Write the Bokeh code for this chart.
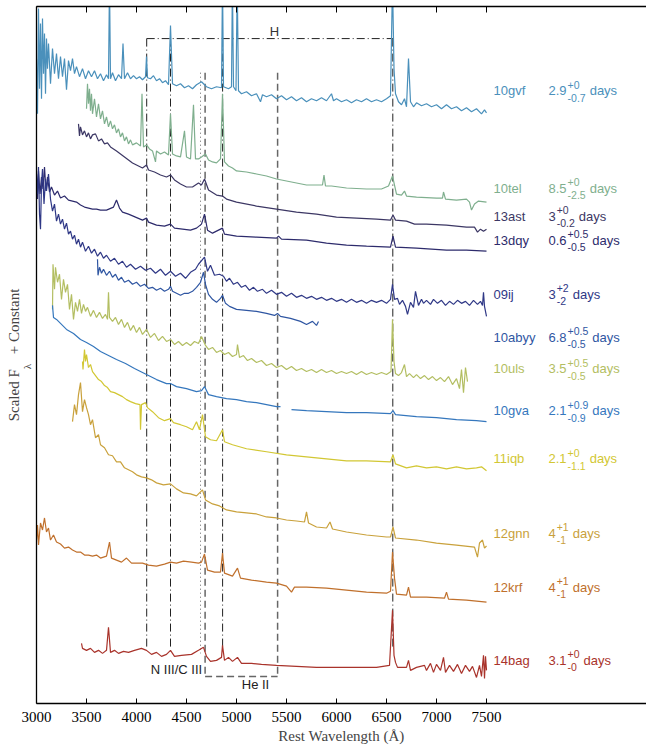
from bokeh.plotting import figure
from bokeh.models import Range1d, LinearAxis, FixedTicker, ColumnDataSource
from bokeh.core.properties import value
from bokeh.embed import file_html
from bokeh.resources import INLINE

# spectra: rest wavelength (A) and scaled flux + constant
wave_10gvf = [3000, 3010, 3020, 3030, 3040, 3050, 3060, 3070, 3080, 3090, 3100, 3110, 3120, 3140, 3160,
              3180, 3200, 3220, 3240, 3260, 3280, 3300, 3320, 3340, 3360, 3380, 3400, 3430, 3460, 3490,
              3520, 3550, 3580, 3610, 3640, 3670, 3700, 3720, 3730, 3740, 3760, 3790, 3820, 3850, 3865,
              3880, 3910, 3940, 3970, 4000, 4030, 4060, 4090, 4100, 4110, 4140, 4170, 4200, 4230, 4260,
              4290, 4320, 4340, 4360, 4400, 4440, 4480, 4520, 4560, 4600, 4650, 4700, 4750, 4800, 4850,
              4860, 4870, 4920, 4950, 4959, 4970, 4995, 5007, 5020, 5050, 5100, 5150, 5200, 5240, 5260,
              5300, 5350, 5400, 5450, 5500, 5550, 5600, 5650, 5700, 5750, 5800, 5850, 5900, 5950, 5970,
              6000, 6050, 6100, 6150, 6200, 6250, 6300, 6350, 6400, 6450, 6500, 6540, 6560, 6575, 6590,
              6620, 6650, 6680, 6700, 6720, 6740, 6770, 6800, 6850, 6900, 6950, 7000, 7050, 7100, 7150,
              7200, 7250, 7300, 7350, 7400, 7450, 7480, 7500]
flux_10gvf = [643, 588, 693, 613, 678, 603, 683, 628, 668, 608, 663, 633, 658, 618, 653,
              628, 648, 623, 645, 625, 643, 612, 641, 631, 643, 628, 635, 625, 633, 623,
              631, 625, 631, 623, 628, 621, 627, 623, 720, 623, 629, 621, 627, 623, 658,
              623, 629, 623, 626, 623, 625, 622, 625, 645, 624, 623, 626, 621, 623, 619,
              621, 617, 676, 618, 616, 618, 614, 616, 613, 617, 620, 615, 613, 615, 614,
              720, 615, 613, 615, 720, 615, 611, 720, 611, 608, 610, 606, 608, 600, 607,
              605, 607, 603, 606, 602, 605, 601, 604, 600, 603, 601, 604, 601, 608, 601,
              603, 600, 602, 599, 602, 600, 603, 600, 602, 600, 603, 606, 720, 633, 608,
              600, 597, 603, 595, 643, 600, 595, 599, 596, 598, 595, 597, 593, 597, 593,
              595, 591, 594, 590, 593, 588, 592, 589]

wave_10tel = [3500, 3510, 3520, 3530, 3540, 3550, 3560, 3580, 3600, 3620, 3640, 3660, 3680, 3700, 3720,
              3740, 3760, 3780, 3800, 3820, 3840, 3860, 3880, 3900, 3920, 3940, 3960, 4000, 4040, 4055,
              4070, 4100, 4130, 4160, 4190, 4200, 4240, 4280, 4320, 4340, 4360, 4400, 4440, 4480, 4500,
              4540, 4570, 4590, 4620, 4650, 4690, 4720, 4760, 4800, 4840, 4860, 4880, 4920, 4960, 5000,
              5100, 5200, 5300, 5400, 5500, 5600, 5700, 5860, 5875, 5890, 5950, 6100, 6300, 6450, 6520,
              6560, 6580, 6600, 6650, 6680, 6700, 6800, 7000, 7060, 7070, 7090, 7200, 7300, 7330, 7350,
              7380, 7420, 7500]
flux_10tel = [593, 618, 598, 613, 591, 608, 588, 603, 585, 598, 583, 591, 578, 585, 575,
              581, 573, 577, 569, 573, 565, 569, 561, 565, 558, 562, 557, 559, 556, 608,
              555, 557, 553, 551, 540, 551, 548, 550, 547, 588, 548, 546, 545, 571, 545,
              543, 597, 543, 543, 545, 548, 542, 540, 539, 543, 608, 540, 536, 534, 531,
              530, 528, 526, 523, 521, 519, 517, 517, 527, 516, 516, 514, 513, 513, 516,
              526, 517, 508, 507, 511, 506, 505, 504, 504, 510, 503, 502, 503, 500, 492,
              498, 501, 500]

wave_13ast = [3420, 3430, 3440, 3460, 3480, 3500, 3520, 3540, 3560, 3590, 3620, 3650, 3680, 3710, 3740,
              3770, 3800, 3840, 3880, 3920, 3960, 4000, 4060, 4100, 4120, 4180, 4240, 4300, 4340, 4380,
              4440, 4500, 4560, 4620, 4650, 4680, 4720, 4800, 4860, 4900, 5000, 5200, 5400, 5600, 5800,
              6000, 6200, 6400, 6540, 6565, 6590, 6700, 6780, 6900, 7100, 7300, 7380, 7410, 7440, 7470,
              7500]
flux_13ast = [578, 566, 575, 567, 571, 565, 569, 563, 567, 568, 561, 563, 558, 559, 555,
              553, 551, 548, 545, 542, 539, 537, 534, 537, 532, 530, 527, 525, 527, 522,
              518, 515, 515, 519, 517, 523, 512, 507, 506, 503, 500, 496, 493, 490, 488,
              485, 484, 483, 482, 487, 482, 481, 478, 478, 477, 475, 475, 470, 473, 471,
              473]

wave_13dqy = [3000, 3010, 3020, 3035, 3050, 3065, 3080, 3095, 3110, 3130, 3150, 3180, 3210, 3240, 3280,
              3320, 3360, 3400, 3440, 3480, 3520, 3560, 3600, 3640, 3700, 3770, 3800, 3830, 3860, 3920,
              3990, 4060, 4100, 4120, 4200, 4280, 4340, 4380, 4460, 4540, 4600, 4650, 4680, 4710, 4760,
              4860, 4880, 5000, 5200, 5400, 5420, 5450, 5700, 5900, 6100, 6300, 6540, 6565, 6590, 6800,
              7100, 7300, 7500]
flux_13dqy = [518, 503, 531, 508, 525, 513, 535, 511, 525, 510, 515, 507, 511, 504, 506,
              502, 501, 500, 497, 495, 494, 493, 493, 492, 492, 495, 502, 494, 490, 488,
              485, 482, 484, 480, 477, 476, 478, 474, 473, 472, 474, 478, 488, 472, 469,
              474, 468, 466, 465, 464, 466, 463, 462, 459, 457, 456, 455, 466, 455, 454,
              452, 452, 451]

wave_09ij = [3000, 3010, 3020, 3030, 3040, 3050, 3060, 3075, 3090, 3100, 3120, 3140, 3160, 3180, 3200,
             3220, 3240, 3260, 3280, 3300, 3320, 3340, 3360, 3380, 3400, 3420, 3440, 3460, 3490, 3520,
             3550, 3580, 3610, 3640, 3670, 3700, 3740, 3780, 3820, 3860, 3900, 3940, 3990, 4040, 4090,
             4140, 4190, 4240, 4290, 4340, 4390, 4440, 4490, 4540, 4590, 4620, 4680, 4710, 4740, 4780,
             4830, 4870, 4900, 4930, 4970, 5010, 5050, 5090, 5130, 5170, 5210, 5260, 5300, 5350, 5400,
             5450, 5500, 5550, 5600, 5650, 5700, 5750, 5800, 5850, 5900, 5950, 6000, 6050, 6100, 6150,
             6200, 6250, 6300, 6350, 6400, 6450, 6500, 6540, 6560, 6580, 6610, 6630, 6660, 6690, 6710,
             6740, 6770, 6790, 6820, 6850, 6870, 6900, 6940, 6970, 7010, 7050, 7090, 7130, 7170, 7210,
             7250, 7290, 7330, 7370, 7410, 7440, 7460, 7470, 7480, 7500]
flux_09ij = [528, 508, 535, 488, 473, 518, 533, 498, 523, 511, 528, 503, 491, 498, 481,
             488, 478, 483, 473, 479, 468, 471, 463, 467, 458, 463, 455, 460, 451, 456,
             449, 453, 446, 450, 444, 447, 441, 444, 438, 441, 435, 438, 433, 436, 432,
             434, 429, 433, 427, 431, 426, 429, 424, 430, 433, 438, 445, 431, 437, 427,
             428, 426, 421, 424, 418, 420, 415, 417, 412, 415, 411, 413, 409, 412, 408,
             410, 406, 409, 405, 407, 404, 406, 403, 405, 402, 404, 401, 403, 400, 403,
             400, 402, 399, 402, 400, 402, 399, 403, 418, 403, 404, 398, 402, 396, 388,
             400, 395, 411, 397, 403, 399, 402, 398, 403, 399, 402, 397, 401, 398, 402,
             399, 401, 397, 402, 398, 401, 397, 410, 396, 386]

wave_10abyy = [3610, 3615, 3630, 3650, 3670, 3700, 3730, 3760, 3790, 3820, 3850, 3880, 3920, 3960, 4000,
               4040, 4080, 4120, 4160, 4200, 4240, 4280, 4320, 4340, 4360, 4400, 4440, 4480, 4520, 4560,
               4600, 4640, 4670, 4690, 4720, 4760, 4800, 4840, 4860, 4890, 4930, 5000, 5100, 5200, 5300,
               5380, 5410, 5440, 5540, 5640, 5700, 5760, 5800, 5820]
flux_10abyy = [443, 427, 435, 429, 433, 427, 431, 425, 428, 422, 425, 420, 422, 418, 420,
               416, 418, 414, 415, 412, 414, 411, 413, 416, 411, 409, 407, 409, 409, 411,
               415, 420, 430, 418, 408, 403, 400, 404, 407, 399, 396, 393, 392, 391, 389,
               387, 389, 386, 384, 381, 378, 381, 377, 381]

wave_10uls = [3160, 3165, 3180, 3190, 3210, 3230, 3250, 3270, 3290, 3310, 3330, 3350, 3370, 3390, 3410,
              3430, 3450, 3470, 3490, 3510, 3540, 3570, 3600, 3630, 3660, 3690, 3710, 3720, 3730, 3760,
              3790, 3820, 3850, 3880, 3910, 3940, 3970, 4000, 4030, 4060, 4100, 4140, 4180, 4220, 4260,
              4300, 4340, 4380, 4420, 4460, 4500, 4540, 4580, 4620, 4650, 4690, 4720, 4760, 4800, 4840,
              4880, 4920, 4960, 5000, 5010, 5030, 5070, 5110, 5150, 5200, 5250, 5300, 5350, 5400, 5450,
              5500, 5550, 5600, 5650, 5700, 5750, 5800, 5850, 5900, 5950, 6000, 6050, 6100, 6150, 6200,
              6250, 6300, 6350, 6400, 6450, 6500, 6545, 6560, 6575, 6590, 6620, 6650, 6680, 6700, 6730,
              6770, 6800, 6840, 6880, 6920, 6960, 7000, 7040, 7080, 7120, 7160, 7200, 7230, 7250, 7270,
              7290, 7310]
flux_10uls = [393, 438, 413, 435, 420, 428, 403, 423, 410, 418, 393, 408, 383, 400, 391,
              403, 389, 398, 391, 395, 386, 392, 385, 390, 384, 388, 383, 410, 385, 381,
              385, 378, 383, 375, 380, 372, 377, 370, 375, 368, 373, 365, 369, 362, 366,
              361, 363, 358, 361, 357, 360, 357, 361, 359, 366, 357, 353, 355, 350, 352,
              348, 350, 346, 348, 358, 345, 347, 342, 344, 340, 342, 337, 339, 335, 337,
              333, 336, 332, 334, 331, 333, 330, 333, 330, 332, 329, 331, 329, 331, 328,
              331, 328, 330, 328, 330, 328, 331, 383, 341, 329, 327, 330, 338, 326, 329,
              325, 328, 324, 327, 323, 326, 322, 325, 321, 326, 318, 324, 314, 333, 310,
              335, 321]

wave_10gva = [3160, 3170, 3200, 3240, 3300, 3370, 3440, 3500, 3570, 3640, 3720, 3800, 3890, 3980, 4060,
              4100, 4200, 4300, 4340, 4400, 4500, 4600, 4650, 4680, 4720, 4800, 4900, 5000, 5100, 5200,
              5300, 5400, 5440, 5490, 5550, 5700, 5900, 6100, 6300, 6540, 6565, 6590, 6800, 7000, 7200,
              7400, 7500]
flux_10gva = [397, 385, 383, 379, 373, 369, 363, 360, 356, 351, 347, 343, 339, 334, 330,
              328, 323, 319, 319, 316, 314, 311, 312, 316, 308, 306, 304, 303, 301, 300,
              298, 296, 296, float("nan"), 293, 292, 291, 290, 290, 289, 292, 288, 286, 285, 283,
              282, 281]

wave_11iqb = [3460, 3465, 3480, 3490, 3500, 3520, 3540, 3560, 3590, 3620, 3650, 3680, 3710, 3740, 3780,
              3820, 3860, 3900, 3940, 3990, 4035, 4040, 4050, 4090, 4110, 4160, 4220, 4280, 4340, 4370,
              4440, 4500, 4560, 4600, 4630, 4660, 4690, 4740, 4800, 4860, 4880, 4960, 5100, 5300, 5500,
              5700, 5900, 6100, 6300, 6540, 6565, 6590, 6700, 6800, 6900, 7000, 7100, 7200, 7300, 7400,
              7450, 7500]
flux_11iqb = [341, 333, 353, 341, 348, 335, 338, 331, 327, 323, 321, 317, 315, 311, 310,
              308, 306, 303, 301, 299, 298, 273, 298, 300, 295, 291, 285, 282, 284, 280,
              278, 276, 273, 281, 273, 288, 266, 263, 262, 273, 261, 258, 254, 251, 248,
              246, 244, 242, 242, 241, 248, 239, 235, 237, 235, 236, 234, 236, 234, 235,
              236, 232]

wave_12gnn = [3360, 3380, 3400, 3420, 3440, 3460, 3480, 3500, 3520, 3540, 3560, 3590, 3620, 3640, 3680,
              3720, 3760, 3800, 3840, 3880, 3920, 3960, 4000, 4050, 4100, 4150, 4200, 4270, 4340, 4400,
              4470, 4540, 4600, 4660, 4690, 4760, 4830, 4900, 5000, 5100, 5200, 5300, 5400, 5500, 5600,
              5680, 5700, 5720, 5800, 5900, 5935, 5960, 6100, 6300, 6500, 6540, 6565, 6590, 6800, 7000,
              7200, 7380, 7410, 7430, 7460, 7480, 7500]
flux_12gnn = [281, 298, 288, 308, 320, 291, 303, 295, 288, 278, 283, 265, 268, 258, 255,
              248, 247, 241, 241, 235, 233, 231, 228, 226, 225, 223, 220, 218, 219, 214,
              210, 209, 207, 213, 203, 199, 197, 193, 191, 190, 189, 186, 185, 183, 182,
              181, 191, 180, 176, 175, 181, 174, 171, 168, 166, 166, 176, 165, 163, 160,
              158, 156, 146, 160, 163, 155, 157]

wave_12krf = [3000, 3010, 3020, 3040, 3060, 3080, 3100, 3120, 3140, 3170, 3200, 3240, 3280, 3320, 3360,
              3400, 3440, 3480, 3520, 3560, 3600, 3640, 3700, 3730, 3750, 3800, 3850, 3900, 3950, 4000,
              4060, 4120, 4200, 4280, 4340, 4400, 4470, 4550, 4620, 4650, 4680, 4710, 4780, 4840, 4860,
              4880, 4960, 5010, 5040, 5150, 5300, 5400, 5500, 5550, 5580, 5700, 5900, 6100, 6300, 6500,
              6540, 6560, 6580, 6600, 6700, 6720, 6740, 6900, 7080, 7100, 7120, 7300, 7500]
flux_12krf = [163, 178, 158, 180, 173, 185, 171, 175, 163, 168, 161, 159, 155, 156, 153,
              151, 151, 148, 148, 147, 148, 145, 147, 161, 145, 143, 141, 145, 140, 140,
              140, 138, 137, 139, 141, 140, 142, 141, 140, 141, 149, 133, 131, 131, 150,
              130, 127, 135, 125, 123, 121, 120, 117, 111, 116, 116, 115, 113, 111, 110,
              112, 151, 125, 109, 108, 116, 106, 106, 105, 111, 104, 103, 101]

wave_14bag = [3450, 3460, 3500, 3540, 3580, 3620, 3660, 3700, 3720, 3740, 3780, 3820, 3870, 3920, 3980,
              4050, 4100, 4150, 4200, 4250, 4300, 4340, 4380, 4450, 4550, 4620, 4670, 4700, 4740, 4800,
              4850, 4860, 4880, 4920, 4960, 5010, 5050, 5150, 5250, 5400, 5600, 5800, 6000, 6200, 6400,
              6530, 6560, 6575, 6590, 6610, 6700, 6720, 6740, 6800, 6880, 6900, 6940, 6970, 7000, 7040,
              7070, 7090, 7130, 7170, 7210, 7250, 7290, 7330, 7360, 7400, 7430, 7450, 7470, 7480, 7490,
              7500]
flux_14bag = [60, 55, 53, 55, 51, 53, 50, 53, 76, 51, 53, 50, 52, 51, 53,
              55, 53, 49, 51, 47, 49, 53, 47, 48, 49, 53, 56, 47, 42, 43,
              46, 58, 43, 46, 42, 46, 40, 40, 39, 38, 37, 36, 36, 36, 36,
              38, 93, 48, 41, 36, 36, 43, 33, 36, 38, 33, 40, 31, 39, 33,
              46, 31, 38, 32, 39, 30, 38, 32, 37, 26, 38, 27, 48, 25, 47,
              33]

names = ["10gvf", "10tel", "13ast", "13dqy", "09ij", "10abyy", "10uls", "10gva", "11iqb", "12gnn", "12krf", "14bag"]
colors = ["#4a90bb", "#7faf8e", "#3c3764", "#2d2b6c", "#2f3886", "#2f56a2", "#b3be62", "#3577bd",
          "#d2c733", "#c9a13b", "#c0702c", "#a9332b"]
waves = [wave_10gvf, wave_10tel, wave_13ast, wave_13dqy, wave_09ij, wave_10abyy, wave_10uls, wave_10gva,
         wave_11iqb, wave_12gnn, wave_12krf, wave_14bag]
fluxes = [flux_10gvf, flux_10tel, flux_13ast, flux_13dqy, flux_09ij, flux_10abyy, flux_10uls, flux_10gva,
          flux_11iqb, flux_12gnn, flux_12krf, flux_14bag]

# epoch labels: value, +err, -err ; label heights
epoch = ["2.9", "8.5", "3", "0.6", "3", "6.8", "3.5", "2.1", "2.1", "4", "4", "3.1"]
epoch_up = ["+0", "+0", "+0", "+0.5", "+2", "+0.5", "+0.5", "+0.9", "+0", "+1", "+1", "+0"]
epoch_dn = ["-0.7", "-2.5", "-0.2", "-0.5", "-2", "-0.5", "-0.5", "-0.9", "-1.1", "-1", "-1", "-0"]
label_y = [611, 514, 486, 462, 408, 365, 334, 292, 244, 170, 116, 43]

# line identifications
h_lines = [4102, 4340, 4861, 6563]
n3_line = 4640
he2_lines = [4686, 5411]

p = figure(width=646, height=746, x_range=Range1d(3000, 9100), y_range=Range1d(0, 695),
           output_backend="svg", toolbar_location=None,
           min_border_left=36, min_border_right=0, min_border_top=6, min_border_bottom=0)
p.grid.visible = False
p.outline_line_color = None

ticks = [3000, 3500, 4000, 4500, 5000, 5500, 6000, 6500, 7000, 7500]
p.xaxis.ticker = FixedTicker(ticks=ticks)
p.xaxis.major_tick_in = 5
p.xaxis.major_tick_out = 0
p.xaxis.minor_tick_in = 0
p.xaxis.minor_tick_out = 0
p.xaxis.axis_line_width = 1.3
p.xaxis.major_label_text_font = "Liberation Serif"
p.xaxis.major_label_text_font_size = "15px"
p.xaxis.major_label_text_color = "black"
p.xaxis.major_label_standoff = 8
p.xaxis.axis_label = "Rest Wavelength (Å)"
p.xaxis.axis_label_text_font = "Liberation Serif"
p.xaxis.axis_label_text_font_size = "15px"
p.xaxis.axis_label_text_font_style = "normal"
p.xaxis.axis_label_standoff = 3

# left axis: bare line, the subscript lambda sits where a tick label would be
p.yaxis.ticker = FixedTicker(ticks=[336])
p.yaxis.major_label_overrides = {336: "λ"}
p.yaxis.major_label_orientation = "vertical"
p.yaxis.major_label_text_font = "Liberation Serif"
p.yaxis.major_label_text_font_size = "11px"
p.yaxis.major_label_standoff = 3
p.yaxis.major_tick_in = 0
p.yaxis.major_tick_out = 0
p.yaxis.minor_tick_in = 0
p.yaxis.minor_tick_out = 0
p.yaxis.axis_line_width = 1.3
p.yaxis.axis_label = "Scaled F\u00a0\u00a0\u00a0\u00a0+ Constant"
p.yaxis.axis_label_text_font = "Liberation Serif"
p.yaxis.axis_label_text_font_size = "15px"
p.yaxis.axis_label_text_font_style = "normal"
p.yaxis.axis_label_standoff = -3

top = LinearAxis(ticker=FixedTicker(ticks=ticks), major_tick_in=6, major_tick_out=0,
                 minor_tick_in=0, minor_tick_out=0, major_label_standoff=0, axis_line_width=1.3,
                 major_label_overrides={t: "" for t in ticks})
p.add_layout(top, "above")

# identification lines
for w in h_lines:
    p.line([w, w], [663, 55], line_color="#222222", line_width=1, line_dash="8 3 1 3")
p.line([h_lines[0], h_lines[-1]], [663, 663], line_color="#222222", line_width=1, line_dash="8 3 1 3")
p.line([n3_line, n3_line], [629, 50], line_color="#666666", line_width=1, line_dash="1 3")
for w in he2_lines:
    p.line([w, w], [629, 27], line_color="#666666", line_width=1.5, line_dash="7 4")
p.line(he2_lines, [27, 27], line_color="#666666", line_width=1.5, line_dash="7 4")

sans = value("Liberation Sans")
p.text(x=[5380], y=[670], text=["H"], text_font=sans, text_font_size="13px", text_color="#333333",
       text_align="center", text_baseline="middle")
p.text(x=[4400], y=[34], text=["N III/C III"], text_font=sans, text_font_size="13px", text_color="#222222",
       text_align="center", text_baseline="middle")
p.text(x=[5190], y=[19], text=["He II"], text_font=sans, text_font_size="13px", text_color="#222222",
       text_align="center", text_baseline="middle")

# spectra
for w, f, c in zip(waves, fluxes, colors):
    p.line(w, f, line_color=c, line_width=1.2)

# labels
p.text(x=[7570] * len(names), y=label_y, text=names, text_color=colors, text_font=sans,
       text_font_size="13px", text_align="left", text_baseline="middle")


def text_width(s, size):
    widths = {".": 0.278, "+": 0.584, "-": 0.333}
    return size * sum(widths.get(ch, 0.556) for ch in s)


main = dict(x=[], y=[], text=[], dx=[], color=[])
small = dict(x=[], y=[], text=[], dx=[], dy=[], color=[])
for e, up, dn, yy, c in zip(epoch, epoch_up, epoch_dn, label_y, colors):
    wb = text_width(e, 13)
    main["x"] += [8120, 8120]
    main["y"] += [yy, yy]
    main["text"] += [e, "days"]
    main["dx"] += [0, wb + 1 + max(text_width(up, 10.5), text_width(dn, 10.5)) + 4]
    main["color"] += [c, c]
    small["x"] += [8120, 8120]
    small["y"] += [yy, yy]
    small["text"] += [up, dn]
    small["dx"] += [wb + 1, wb + 1]
    small["dy"] += [-6, 7]
    small["color"] += [c, c]

p.text(x="x", y="y", text="text", x_offset="dx", text_color="color", source=ColumnDataSource(main),
       text_font=sans, text_font_size="13px", text_align="left", text_baseline="middle")
p.text(x="x", y="y", text="text", x_offset="dx", y_offset="dy", text_color="color",
       source=ColumnDataSource(small), text_font=sans, text_font_size="10.5px",
       text_align="left", text_baseline="middle")

open("out.html", "w").write(file_html(p, INLINE))
